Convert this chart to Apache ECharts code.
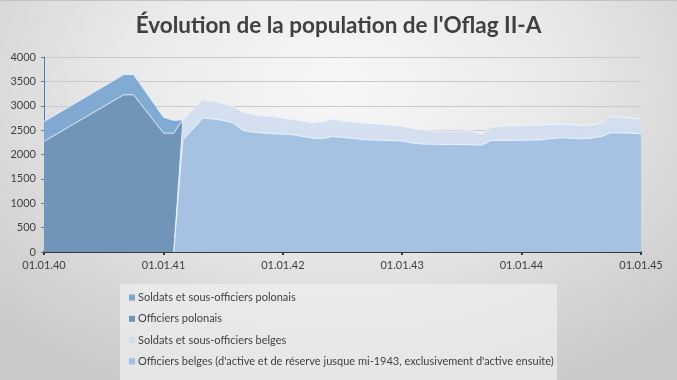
<!DOCTYPE html>
<html>
<head>
<meta charset="utf-8">
<script src="https://cdn.jsdelivr.net/npm/echarts@6/dist/echarts.min.js"></script>
<style>
html,body{margin:0;padding:0;}
#c{width:677px;height:380px;box-sizing:border-box;border-top:1px solid #c4c4c4;
background:radial-gradient(ellipse 72% 90% at 50% 22%, #f7f7f7 0%, #e9e9e9 45%, #d4d4d4 80%, #c9c9c9 100%);}
</style>
</head>
<body>
<div id="c"></div>
<script>
// ---- data ----
const titleText = "Évolution de la population de l'Oflag II-A";
const seriesNames = [
  "Soldats et sous-officiers polonais",
  "Officiers polonais",
  "Soldats et sous-officiers belges",
  "Officiers belges (d'active et de réserve jusque mi-1943, exclusivement d'active ensuite)"
];
const datesPL = ['1940-01-01','1940-09-01','1940-10-01','1941-01-01','1941-02-01','1941-03-01','1941-04-01'];
const soldatsPolonais = [2675, 3640, 3640, 2763, 2700, 2715, 0];
const officiersPolonais = [2268, 3225, 3225, 2437, 2437, 2715, 0];

const datesBE = [
  '1941-02-01','1941-03-01','1941-04-01','1941-05-01','1941-06-01','1941-07-01','1941-08-01','1941-09-01','1941-10-01','1941-11-01','1941-12-01',
  '1942-01-01','1942-02-01','1942-03-01','1942-04-01','1942-05-01','1942-06-01','1942-07-01','1942-08-01','1942-09-01','1942-10-01','1942-11-01','1942-12-01',
  '1943-01-01','1943-02-01','1943-03-01','1943-04-01','1943-05-01','1943-06-01','1943-07-01','1943-08-01','1943-09-01','1943-10-01','1943-11-01','1943-12-01',
  '1944-01-01','1944-02-01','1944-03-01','1944-04-01','1944-05-01','1944-06-01','1944-07-01','1944-08-01','1944-09-01','1944-10-01','1944-11-01','1944-12-01',
  '1945-01-01'
];
const soldatsBelges = [
  0, 2700, 2940, 3125, 3100, 3050, 2990, 2870, 2825, 2800, 2780,
  2750, 2720, 2690, 2650, 2665, 2730, 2690, 2665, 2645, 2635, 2620, 2600,
  2580, 2540, 2500, 2485, 2478, 2478, 2478, 2490, 2420, 2570, 2580, 2592,
  2600, 2602, 2605, 2615, 2628, 2612, 2594, 2605, 2650, 2780, 2770, 2750,
  2730
];
const officiersBelges = [
  0, 2300, 2520, 2745, 2730, 2700, 2650, 2490, 2460, 2440, 2425,
  2415, 2405, 2370, 2335, 2325, 2370, 2350, 2330, 2308, 2298, 2290, 2283,
  2276, 2235, 2215, 2210, 2206, 2206, 2205, 2200, 2190, 2288, 2288, 2288,
  2290, 2295, 2300, 2325, 2343, 2333, 2322, 2335, 2365, 2445, 2440, 2437,
  2424
];
const xTickDates = ['1940-01-01','1941-01-01','1942-01-01','1943-01-01','1944-01-01','1945-01-01'];
const yMax = 4000, yStep = 500;

// ---- helpers ----
function ts(s){ const p = s.split('-').map(Number); return Date.UTC(p[0], p[1]-1, p[2]); }
function pairs(d, v){ return d.map((x,i)=>[ts(x), v[i]]); }
function pad(n){ return (n<10?'0':'')+n; }
function fmt(v){ const d = new Date(v); return pad(d.getUTCDate())+'.'+pad(d.getUTCMonth()+1)+'.'+String(d.getUTCFullYear()).slice(2); }

const colors = ['#7aa6d2', '#7093b6', '#d2def0', '#a2bfe2'];
const font = 'Lato, "Open Sans", sans-serif';
const xTicks = xTickDates.map(ts);

const chart = echarts.init(document.getElementById('c'), null, {renderer:'canvas'});
const mk = (name, data, color, z) => ({
  name, type:'line', data, showSymbol:false, symbol:'none', z,
  lineStyle:{color:'rgba(240,246,255,0.85)', width:1},
  areaStyle:{color, opacity:0.93},
  itemStyle:{color}, animation:false
});
chart.setOption({
  backgroundColor:'transparent',
  animation:false,
  color: colors,
  title:{text:titleText, left:'center', top:8,
    textStyle:{fontFamily:font, fontSize:22.5, fontWeight:'bold', color:'#404040'}},
  grid:{left:44, right:36, top:56, bottom:128, containLabel:false},
  graphic:[{type:'rect', shape:{x:120, y:283, width:437, height:100}, style:{fill:'rgba(240,240,240,0.7)'}, z:-1}],
  legend:{
    orient:'vertical', left:124, top:286, itemGap:10.3, itemWidth:6, itemHeight:6, icon:'rect',
    textStyle:{fontFamily:font, fontSize:11, color:'#404040', padding:[0,0,0,-2]},
    data: seriesNames.map((n,i)=>({name:n, itemStyle:{color:colors[i]}}))
  },
  xAxis:{
    type:'value', min:ts('1940-01-01'), max:ts('1945-01-01'),
    axisLine:{lineStyle:{color:'#3a3a3a', width:2}},
    axisTick:{show:true, length:3, customValues:xTicks, lineStyle:{color:'#3a3a3a', width:2}},
    axisLabel:{customValues:xTicks, formatter:fmt, margin:8, fontFamily:font, fontSize:11, color:'#404040', showMinLabel:true, showMaxLabel:true},
    splitLine:{show:false}
  },
  yAxis:{
    type:'value', min:0, max:yMax, interval:yStep,
    axisLine:{show:true, lineStyle:{color:'#4f7cb8', width:1}},
    axisTick:{show:true, length:3, lineStyle:{color:'#4f7cb8'}},
    axisLabel:{margin:8, fontFamily:font, fontSize:11, color:'#404040', formatter:v=>String(v)},
    splitLine:{lineStyle:{color:'#c9c9c9', width:1}}
  },
  series:[
    mk(seriesNames[0], pairs(datesPL, soldatsPolonais), colors[0], 2),
    mk(seriesNames[1], pairs(datesPL, officiersPolonais), colors[1], 3),
    mk(seriesNames[2], pairs(datesBE, soldatsBelges), colors[2], 4),
    mk(seriesNames[3], pairs(datesBE, officiersBelges), colors[3], 5)
  ]
});
</script>
</body>
</html>
